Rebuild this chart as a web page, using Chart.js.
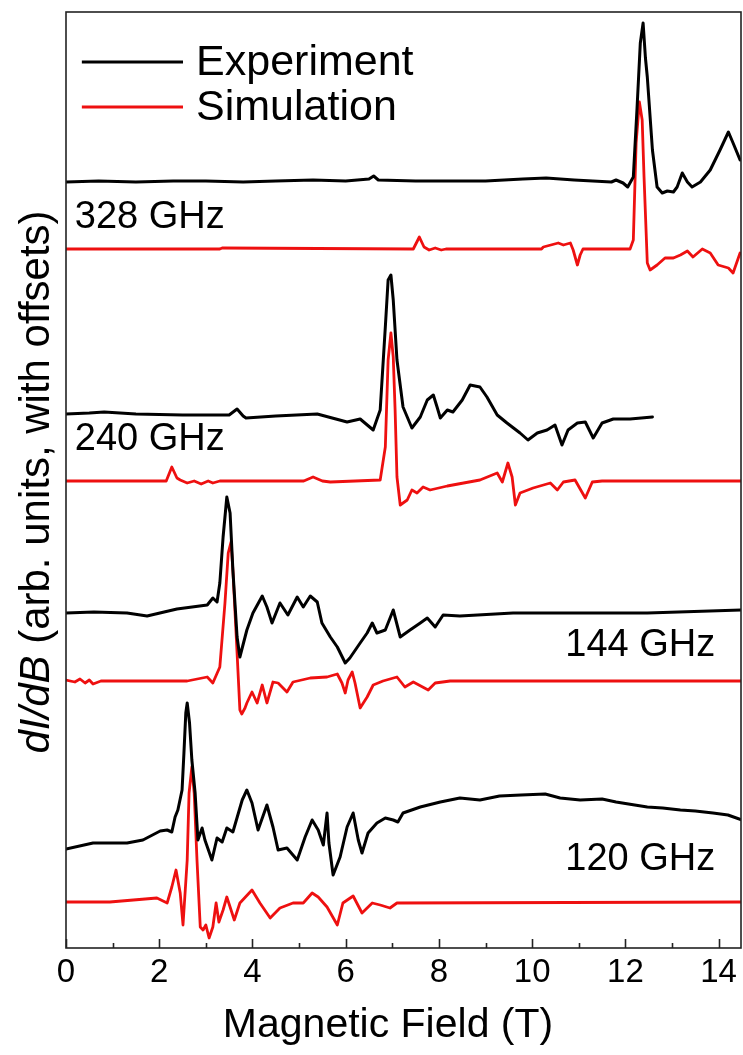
<!DOCTYPE html>
<html>
<head>
<meta charset="utf-8">
<script src="https://cdn.jsdelivr.net/npm/chart.js@4.4.1/dist/chart.umd.min.js"></script>
<style>
  html, body { margin: 0; padding: 0; background: #fff; }
  #wrap { width: 743px; height: 1055px; }
</style>
</head>
<body>
<div id="wrap"><canvas id="c" width="743" height="1055"></canvas></div>
<script>
// ---- Data: [magnetic field (T), dI/dB (arb. units, with offsets)] ----
const exp328 = [[0,766],[0.7,767],[1.5,766],[2.3,767],[3,767],[3.8,766],[4.5,767],[5.3,768],[6.0,767],[6.5,769],[6.6,772],[6.7,768],[7.5,767],[8.3,767],[9.0,767],[9.8,769],[10.3,770],[10.9,768],[11.7,766],[11.8,768],[11.95,765],[12.05,761],[12.17,771],[12.25,840],[12.32,905],[12.38,925],[12.43,890],[12.47,871],[12.58,798],[12.68,761],[12.79,755],[12.9,757],[13.03,756],[13.11,761],[13.22,775],[13.33,766],[13.43,761],[13.61,766],[13.82,778],[14.03,798],[14.21,816],[14.31,805],[14.46,788]];
const sim328 = [[0,699],[3.3,699],[3.35,700],[7.45,699],[7.58,711],[7.68,701],[7.79,698],[7.92,700],[8.05,698],[8.15,699],[10.2,699],[10.24,701],[10.56,705],[10.67,703],[10.82,705],[10.88,698],[10.97,683],[11.03,693],[11.09,699],[12.10,699],[12.17,708],[12.23,805],[12.30,846],[12.36,828],[12.40,771],[12.47,685],[12.53,678],[12.68,683],[12.85,690],[13.03,690],[13.18,693],[13.33,697],[13.45,691],[13.65,699],[13.82,695],[13.99,683],[14.21,680],[14.31,675],[14.46,695]];
const exp240 = [[0,534],[0.5,535],[0.82,536],[1.5,534],[2.5,533],[3.5,533],[3.67,539],[3.8,532],[3.86,530],[4.5,532],[5.39,534],[6.03,526],[6.31,529],[6.59,518],[6.74,538],[6.85,621],[6.91,668],[6.97,673],[7.02,648],[7.10,588],[7.23,541],[7.42,520],[7.60,531],[7.75,548],[7.88,553],[7.96,541],[8.03,530],[8.18,538],[8.30,536],[8.50,548],[8.67,563],[8.88,561],[9.03,551],[9.25,533],[9.46,525],[9.74,515],[9.91,508],[10.11,515],[10.32,518],[10.49,523],[10.64,503],[10.77,518],[10.97,525],[11.14,526],[11.31,510],[11.50,525],[11.74,529],[12.10,529],[12.58,531]];
const sim240 = [[0,467],[2.15,467],[2.27,481],[2.38,470],[2.45,468],[2.6,465],[2.75,467],[2.9,464],[3.05,467],[3.15,465],[3.3,467],[5.1,467],[5.3,471],[5.5,467],[5.67,466],[6.74,468],[6.85,501],[6.91,588],[6.97,615],[7.02,591],[7.06,538],[7.10,471],[7.17,443],[7.32,448],[7.42,458],[7.53,455],[7.66,461],[7.81,458],[8.18,462],[8.88,468],[9.25,475],[9.36,466],[9.48,485],[9.57,471],[9.64,443],[9.74,455],[10.02,460],[10.39,465],[10.54,458],[10.67,466],[10.92,468],[11.14,450],[11.29,466],[11.50,467],[14.5,467]];
const exp144 = [[0,335],[0.6,336],[1.31,335],[1.74,332],[2.38,339],[3.03,343],[3.15,350],[3.24,346],[3.30,365],[3.37,411],[3.45,451],[3.52,435],[3.58,378],[3.67,311],[3.73,291],[3.88,318],[4.01,335],[4.21,352],[4.31,341],[4.42,325],[4.59,345],[4.76,333],[4.96,351],[5.09,341],[5.24,352],[5.39,346],[5.49,325],[5.67,311],[5.82,301],[5.99,285],[6.09,290],[6.31,305],[6.46,315],[6.57,325],[6.67,315],[6.85,318],[7.02,338],[7.17,311],[7.38,318],[7.60,325],[7.75,330],[7.92,321],[8.09,333],[8.45,332],[9.59,335],[12.47,335],[14.5,338]];
const sim144 = [[0,268],[0.19,266],[0.3,269],[0.41,265],[0.5,268],[0.58,264],[0.75,267],[2.60,267],[3.03,271],[3.15,265],[3.30,281],[3.41,345],[3.48,395],[3.54,406],[3.58,378],[3.67,295],[3.73,238],[3.77,234],[3.84,240],[3.88,245],[3.99,256],[4.10,245],[4.21,263],[4.31,245],[4.44,266],[4.55,265],[4.74,256],[4.87,266],[5.24,270],[5.60,271],[5.82,274],[5.92,265],[5.99,255],[6.05,268],[6.14,276],[6.20,265],[6.31,240],[6.46,251],[6.59,263],[6.80,267],[7.10,271],[7.27,261],[7.45,266],[7.77,258],[7.92,265],[8.24,267],[14.5,267]];
const exp120 = [[0,99],[0.58,105],[1.31,105],[1.65,108],[2.02,117],[2.17,118],[2.27,116],[2.34,131],[2.40,138],[2.49,158],[2.53,195],[2.57,235],[2.60,245],[2.65,225],[2.70,188],[2.77,155],[2.83,108],[2.92,120],[2.98,108],[3.13,88],[3.24,110],[3.35,106],[3.45,120],[3.58,116],[3.78,148],[3.88,158],[3.99,145],[4.12,118],[4.31,143],[4.44,121],[4.55,98],[4.74,100],[4.96,88],[5.13,111],[5.28,128],[5.41,118],[5.52,103],[5.60,135],[5.64,105],[5.73,73],[5.88,91],[6.03,121],[6.16,135],[6.27,108],[6.35,95],[6.48,115],[6.67,125],[6.85,130],[7.02,128],[7.12,126],[7.23,135],[7.60,141],[8.03,146],[8.45,150],[8.88,148],[9.3,152],[9.76,153],[10.28,154],[10.6,150],[11.03,148],[11.5,149],[11.80,146],[12.2,143],[12.47,141],[12.8,140],[13.18,138],[13.5,137],[13.88,135],[14.2,133],[14.5,128]];
const sim120 = [[0,46],[0.94,46],[1.95,50],[2.17,45],[2.27,61],[2.36,78],[2.45,55],[2.51,23],[2.60,88],[2.64,155],[2.70,181],[2.75,155],[2.81,88],[2.88,21],[2.94,18],[3.00,23],[3.07,10],[3.15,21],[3.22,45],[3.28,26],[3.37,38],[3.45,51],[3.52,41],[3.61,28],[3.73,45],[3.99,58],[4.16,45],[4.38,30],[4.59,40],[4.87,45],[5.09,45],[5.28,55],[5.41,51],[5.60,41],[5.82,23],[5.94,45],[6.16,52],[6.35,35],[6.57,45],[6.74,43],[6.95,40],[7.10,45],[14.5,46]];

const freqLabels = ['328 GHz', '240 GHz', '144 GHz', '120 GHz'];
const freqLabelPos = [[0.19, 730], [0.19, 508], [10.71, 302], [10.71, 88]]; // [T, arb.]
const legendLabels = ['Experiment', 'Simulation'];
const xTickValues = [0, 2, 4, 6, 8, 10, 12, 14];
const xTitle = 'Magnetic Field (T)';
const yTitleItalic = 'dI/dB';
const yTitleRest = ' (arb. units, with offsets)';

const BLACK = '#000000';
const RED = '#ee1010';
const FONT = '"Liberation Sans", Arial, Helvetica, sans-serif';

const toXY = arr => arr.map(p => ({ x: p[0], y: p[1] }));
function ds(arr, color, w) {
  return { data: toXY(arr), borderColor: color, backgroundColor: color, borderWidth: w,
           pointRadius: 0, tension: 0, fill: false, borderJoinStyle: 'round', borderCapStyle: 'round' };
}

const decor = {
  id: 'decor',
  afterDraw(chart) {
    const ctx = chart.ctx, a = chart.chartArea, xs = chart.scales.x, ys = chart.scales.y;
    ctx.save();
    // frame
    ctx.strokeStyle = '#222'; ctx.lineWidth = 1.6;
    ctx.strokeRect(a.left, a.top, a.right - a.left, a.bottom - a.top);
    // inward ticks
    for (let v = 0; v <= 14; v++) {
      const px = Math.round(xs.getPixelForValue(v)) + 0.5;
      const len = (v % 2 === 0) ? 9 : 5;
      ctx.beginPath(); ctx.moveTo(px, a.bottom); ctx.lineTo(px, a.bottom - len); ctx.stroke();
    }
    // frequency labels
    ctx.fillStyle = '#000'; ctx.font = '38px ' + FONT;
    ctx.textBaseline = 'middle'; ctx.textAlign = 'left';
    freqLabels.forEach((t, i) => {
      ctx.fillText(t, xs.getPixelForValue(freqLabelPos[i][0]), ys.getPixelForValue(freqLabelPos[i][1]));
    });
    // legend
    const lx0 = xs.getPixelForValue(0.34), lx1 = xs.getPixelForValue(2.51), tx = xs.getPixelForValue(2.79);
    const ly = [ys.getPixelForValue(886), ys.getPixelForValue(841)];
    const lc = [BLACK, RED];
    ctx.font = '43px ' + FONT;
    legendLabels.forEach((t, i) => {
      ctx.strokeStyle = lc[i]; ctx.lineWidth = 2.8;
      ctx.beginPath(); ctx.moveTo(lx0, ly[i]); ctx.lineTo(lx1, ly[i]); ctx.stroke();
      ctx.fillStyle = '#000'; ctx.fillText(t, tx, ly[i] + 1);
    });
    // x title
    ctx.font = '41px ' + FONT; ctx.textAlign = 'center';
    ctx.fillText(xTitle, 388, 1026);
    // y title (italic part + normal part)
    ctx.translate(37, (a.top + a.bottom) / 2 + 2);
    ctx.rotate(-Math.PI / 2);
    const fi = 'italic 42px ' + FONT, fn = '42px ' + FONT;
    ctx.font = fi; const w1 = ctx.measureText(yTitleItalic).width;
    ctx.font = fn; const w2 = ctx.measureText(yTitleRest).width;
    const start = -(w1 + w2) / 2;
    ctx.textAlign = 'left';
    ctx.font = fi; ctx.fillText(yTitleItalic, start, 0);
    ctx.font = fn; ctx.fillText(yTitleRest, start + w1, 0);
    ctx.restore();
  }
};

new Chart(document.getElementById('c'), {
  type: 'line',
  data: {
    datasets: [
      ds(exp328, BLACK, 3), ds(sim328, RED, 2.8),
      ds(exp240, BLACK, 3), ds(sim240, RED, 2.8),
      ds(exp144, BLACK, 3), ds(sim144, RED, 2.8),
      ds(exp120, BLACK, 3), ds(sim120, RED, 2.8)
    ]
  },
  options: {
    responsive: false, animation: false,
    layout: { padding: { top: 12, right: 2, left: 0, bottom: 0 } },
    plugins: { legend: { display: false }, tooltip: { enabled: false } },
    scales: {
      x: {
        type: 'linear', min: 0, max: 14.48,
        afterFit(s) { s.height = 107; },
        afterBuildTicks(s) { s.ticks = xTickValues.map(v => ({ value: v })); },
        ticks: { font: { size: 33, family: FONT }, color: '#000', padding: 5, maxRotation: 0, autoSkip: false },
        grid: { display: false, drawTicks: false },
        border: { display: false }
      },
      y: {
        type: 'linear', min: 0, max: 936,
        afterFit(s) { s.width = 66; },
        ticks: { display: false },
        grid: { display: false, drawTicks: false },
        border: { display: false }
      }
    }
  },
  plugins: [decor]
});
</script>
</body>
</html>
